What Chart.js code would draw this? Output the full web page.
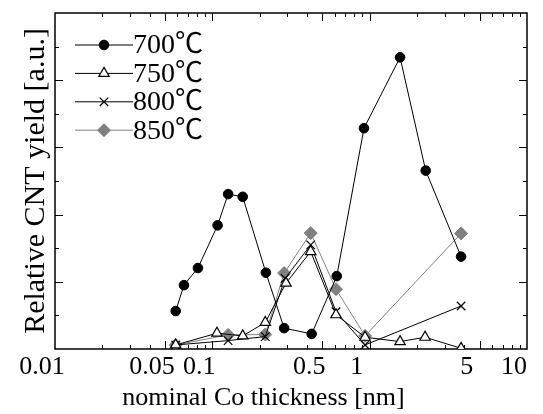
<!DOCTYPE html>
<html lang="en">
<head>
  <meta charset="UTF-8">
  <title>Relative CNT yield</title>
  <script src="https://cdn.jsdelivr.net/npm/chart.js"></script>
  <style>
    body { margin: 0; background: #fff; }
    canvas { display: block; }
  </style>
</head>
<body>
  <canvas id="chart" width="543" height="414"></canvas>

  <script>
    // nominal Co thickness [nm] and relative yield [a.u.]
    const x700 = [0.0585, 0.066, 0.081, 0.108, 0.126, 0.156, 0.219, 0.286, 0.428, 0.618, 0.92, 1.56, 2.27, 3.81];
    const y700 = [1.13, 1.90, 2.41, 3.68, 4.61, 4.53, 2.27, 0.62, 0.45, 2.17, 6.57, 8.68, 5.31, 2.75];

    const x750 = [0.0585, 0.107, 0.156, 0.217, 0.294, 0.422, 0.611, 0.935, 1.56, 2.25, 3.81];
    const y750 = [0.12, 0.47, 0.39, 0.79, 1.96, 2.90, 1.02, 0.35, 0.22, 0.35, 0.02];

    const x800 = [0.0585, 0.126, 0.217, 0.29, 0.422, 0.611, 0.935, 3.81];
    const y800 = [0.12, 0.25, 0.37, 2.10, 3.10, 1.11, 0.12, 1.28];

    const x850 = [0.0585, 0.126, 0.217, 0.286, 0.422, 0.611, 0.935, 3.81];
    const y850 = [0.12, 0.42, 0.43, 2.26, 3.45, 1.78, 0.39, 3.44];

    const seriesLabels = ['700℃', '750℃', '800℃', '850℃'];
    const xTickLabels = [0.01, 0.05, 0.1, 0.5, 1, 5, 10];

    const FONT = "'Liberation Serif', 'Noto Sans CJK JP', serif";
    const toPoints = (xs, ys) => xs.map((x, i) => ({ x: x, y: ys[i] }));

    // frame, inward tick marks and the legend inside the plot
    const framePlugin = {
      id: 'frame',
      beforeDatasetsDraw(chart) {
        const { ctx, chartArea: a, scales } = chart;
        ctx.save();
        ctx.strokeStyle = '#000';
        ctx.lineWidth = 1;
        // x ticks, top and bottom
        [0.01, 0.1, 1].forEach(d => {
          for (let k = 1; k <= 10; k++) {
            const v = +(k * d).toPrecision(3);
            if (v <= 0.01 || v >= 10) continue;
            const px = Math.round(scales.x.getPixelForValue(v)) + 0.5;
            const len = xTickLabels.includes(v) ? 8 : 4;
            ctx.beginPath();
            ctx.moveTo(px, a.bottom); ctx.lineTo(px, a.bottom - len);
            ctx.moveTo(px, a.top); ctx.lineTo(px, a.top + len);
            ctx.stroke();
          }
        });
        // y ticks, left and right
        for (let n = 1; n < 10; n++) {
          const py = Math.round(scales.y.getPixelForValue(n)) + 0.5;
          const len = n % 2 === 0 ? 8 : 4;
          ctx.beginPath();
          ctx.moveTo(a.left, py); ctx.lineTo(a.left + len, py);
          ctx.moveTo(a.right, py); ctx.lineTo(a.right - len, py);
          ctx.stroke();
        }
        ctx.lineWidth = 1.5;
        ctx.strokeRect(a.left, a.top, a.right - a.left, a.bottom - a.top);
        ctx.restore();
      },
      afterDraw(chart) {
        const { ctx } = chart;
        ctx.save();
        chart.data.datasets.forEach((ds, i) => {
          const y = 45 + i * 28.4;
          ctx.strokeStyle = ds.borderColor;
          ctx.lineWidth = 1;
          ctx.beginPath();
          ctx.moveTo(75, y); ctx.lineTo(133, y);
          ctx.stroke();
          ctx.fillStyle = ds.pointBackgroundColor;
          ctx.strokeStyle = ds.pointBorderColor;
          ctx.lineWidth = ds.pointBorderWidth;
          Chart.helpers.drawPoint(ctx, {
            pointStyle: ds.pointStyle, radius: ds.pointRadius,
            rotation: 0, borderWidth: ds.pointBorderWidth
          }, 104, y);
          ctx.fillStyle = '#000';
          ctx.font = '28px ' + FONT;
          ctx.textBaseline = 'middle';
          ctx.textAlign = 'left';
          ctx.fillText(ds.label, 133, y + 1);
        });
        ctx.restore();
      }
    };

    new Chart(document.getElementById('chart'), {
      type: 'line',
      data: {
        datasets: [
          {
            label: seriesLabels[0], data: toPoints(x700, y700),
            borderColor: '#000', borderWidth: 1,
            pointStyle: 'circle', pointRadius: 4.8,
            pointBackgroundColor: '#000', pointBorderColor: '#000', pointBorderWidth: 1
          },
          {
            label: seriesLabels[1], data: toPoints(x750, y750),
            borderColor: '#000', borderWidth: 1,
            pointStyle: 'triangle', pointRadius: 6,
            pointBackgroundColor: '#fff', pointBorderColor: '#000', pointBorderWidth: 1.2
          },
          {
            label: seriesLabels[2], data: toPoints(x800, y800),
            borderColor: '#000', borderWidth: 1,
            pointStyle: 'crossRot', pointRadius: 6,
            pointBackgroundColor: '#000', pointBorderColor: '#000', pointBorderWidth: 1.2
          },
          {
            label: seriesLabels[3], data: toPoints(x850, y850),
            borderColor: '#808080', borderWidth: 1,
            pointStyle: 'rectRot', pointRadius: 6.5,
            pointBackgroundColor: '#808080', pointBorderColor: '#808080', pointBorderWidth: 1
          }
        ]
      },
      options: {
        responsive: false,
        animation: false,
        layout: { padding: { top: 13, right: 16, left: 0, bottom: 0 } },
        plugins: {
          legend: { display: false },
          tooltip: { enabled: false },
          title: {
            display: true,
            position: 'bottom',
            text: 'nominal Co thickness [nm]',
            color: '#000',
            font: { family: FONT, size: 26, weight: 'normal' },
            padding: { top: 0, bottom: 0 }
          }
        },
        scales: {
          x: {
            type: 'logarithmic',
            min: 0.01, max: 10,
            grid: { display: false, drawTicks: false },
            border: { display: false },
            afterBuildTicks: s => { s.ticks = xTickLabels.map(v => ({ value: v })); },
            afterFit: s => { s.height = 414 - 349 - 31.2; },
            ticks: {
              autoSkip: false, maxRotation: 0, minRotation: 0,
              padding: 3, labelOffset: -13,
              color: '#000',
              font: { family: FONT, size: 26 },
              callback: v => String(v)
            }
          },
          y: {
            min: 0, max: 10,
            grid: { display: false, drawTicks: false },
            border: { display: false },
            afterFit: s => { s.width = 55; },
            ticks: { display: false },
            title: {
              display: true,
              text: 'Relative CNT yield [a.u.]',
              color: '#000',
              font: { family: FONT, size: 30 },
              padding: { top: 18, bottom: 0 }
            }
          }
        }
      },
      plugins: [framePlugin]
    });
  </script>
</body>
</html>
